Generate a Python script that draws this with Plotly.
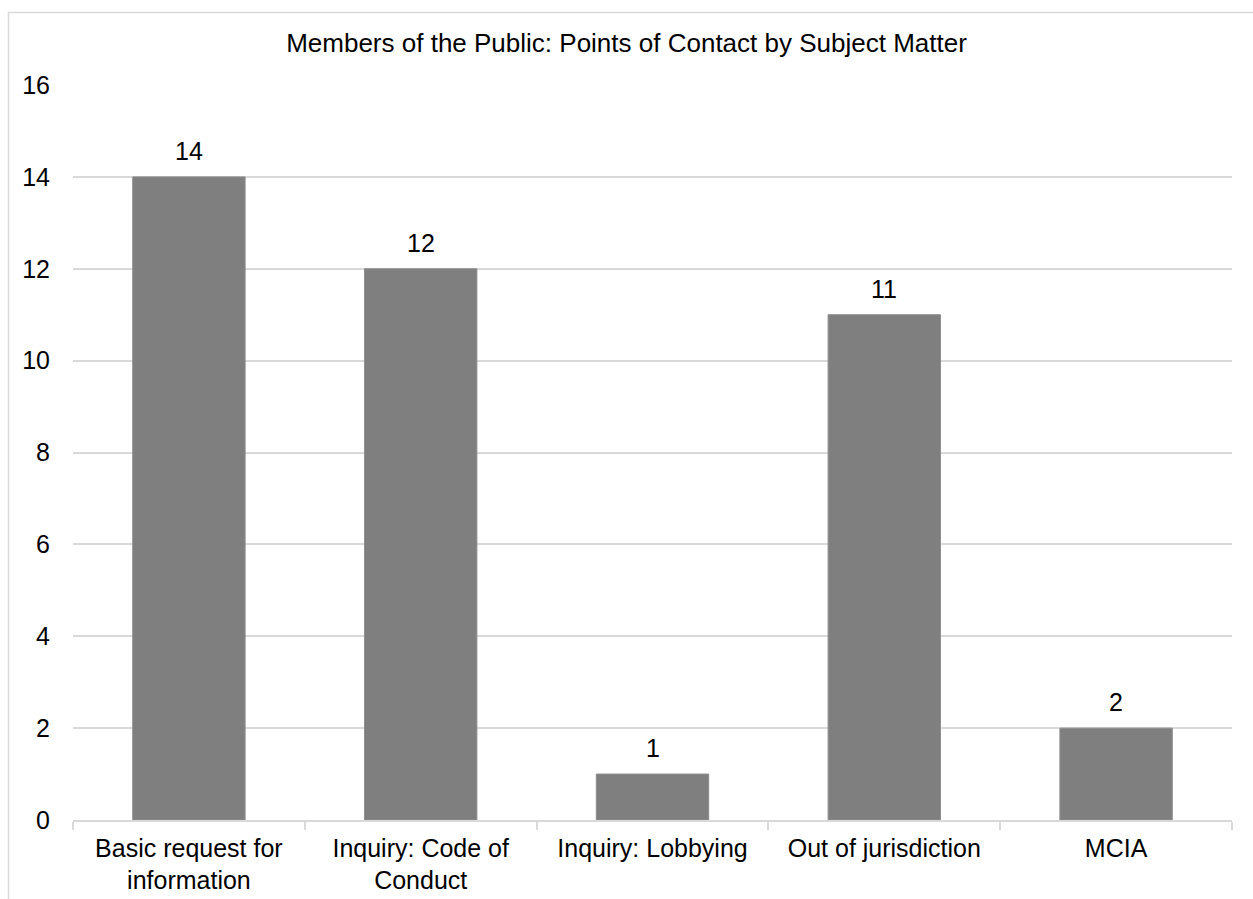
import plotly.graph_objects as go

categories = [
    "Basic request for<br>information",
    "Inquiry: Code of<br>Conduct",
    "Inquiry: Lobbying",
    "Out of jurisdiction",
    "MCIA",
]
contacts = [14, 12, 1, 11, 2]
y_ticks = [0, 2, 4, 6, 8, 10, 12, 14, 16]

FONT = "Liberation Sans, Arial, sans-serif"
FS = 25
GRID = "#d9d9d9"
TEXT = "#000000"

fig = go.Figure(
    go.Bar(
        x=categories,
        y=contacts,
        marker=dict(color="#7f7f7f", line=dict(color="#8f8f8f", width=1)),
        width=0.485,
        hoverinfo="x+y",
    )
)

# value labels sitting a little above each bar
for cat, val in zip(categories, contacts):
    fig.add_annotation(
        x=cat,
        y=val,
        text=str(val),
        showarrow=False,
        yanchor="bottom",
        yshift=10,
        font=dict(family=FONT, size=FS, color=TEXT),
    )

fig.update_layout(
    width=1253,
    height=899,
    margin=dict(l=73, r=21, t=85, b=79),
    paper_bgcolor="white",
    plot_bgcolor="white",
    showlegend=False,
    title=dict(
        text="Members of the Public: Points of Contact by Subject Matter",
        font=dict(family=FONT, size=26, color=TEXT),
        x=0.5,
        xanchor="center",
        y=1 - 43 / 899,
        yanchor="middle",
    ),
    shapes=[
        dict(
            type="rect",
            xref="paper",
            yref="paper",
            x0=(8.5 - 73) / 1159,
            x1=1.1,
            y0=-0.3,
            y1=(820 - 12.5) / 735,
            line=dict(color=GRID, width=1.5),
            fillcolor="rgba(0,0,0,0)",
            layer="below",
        )
    ],
)

fig.update_xaxes(
    automargin=False,
    showgrid=False,
    showline=True,
    linecolor=GRID,
    linewidth=1.5,
    ticks="outside",
    tickson="boundaries",
    ticklen=8,
    tickcolor=GRID,
    tickwidth=1.5,
    tickfont=dict(family=FONT, size=FS, color=TEXT),
    ticklabelstandoff=5,
)

fig.update_yaxes(
    automargin=False,
    range=[0, 16],
    tickvals=y_ticks,
    showgrid=True,
    gridcolor=GRID,
    gridwidth=1.5,
    zeroline=False,
    showline=False,
    tickfont=dict(family=FONT, size=FS, color=TEXT),
    ticklabelstandoff=22,
)

fig.write_html("out.html")
